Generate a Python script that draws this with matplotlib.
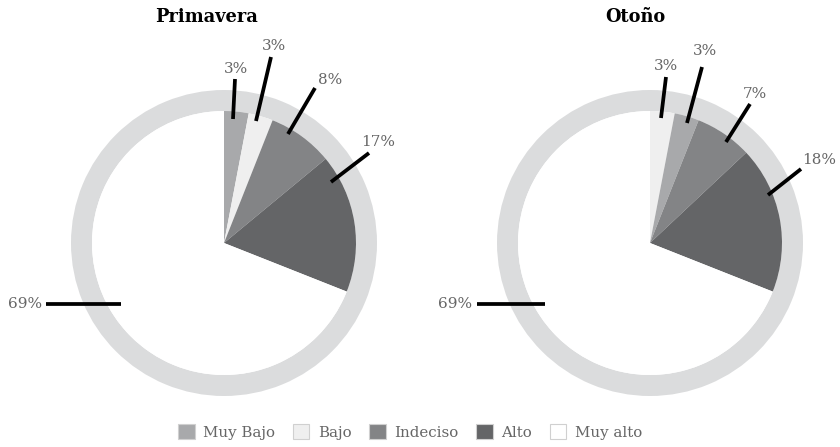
import matplotlib
matplotlib.use("Agg")
import matplotlib.pyplot as plt
from matplotlib.patches import Wedge, Patch
import numpy as np

# ---------------- data ----------------
categories = ["Muy Bajo", "Bajo", "Indeciso", "Alto", "Muy alto"]
titles = ["Primavera", "Otoño"]
# slice order as drawn (clockwise from 12 o'clock)
primavera_order = ["Muy Bajo", "Bajo", "Indeciso", "Alto", "Muy alto"]
primavera_values = [3, 3, 8, 17, 69]
otono_order = ["Bajo", "Muy Bajo", "Indeciso", "Alto", "Muy alto"]
otono_values = [3, 3, 7, 18, 69]

# ---------------- style ----------------
colors = {"Muy Bajo": "#a8a9ab", "Bajo": "#efefef", "Indeciso": "#838486",
          "Alto": "#646567", "Muy alto": "#ffffff"}
ring_color = "#dbdcdd"
text_color = "#666666"
W, H = 840, 447
R = 132          # pie radius (px)
RING_OUT = 153   # ring outer radius (px)

# leader layout (px offsets from pie centre, y downward): line start, line end, label centre, ha
layout_p = [((9, -124), (11, -164), (12, -174), "center"),
            ((32, -122), (47, -186), (50, -197), "center"),
            ((64, -109), (91, -155), (106, -163), "center"),
            ((107, -61), (145, -90), (154, -101), "center"),
            ((-103, 61), (-178, 61), (-182, 61), "right")]
layout_o = [((11, -125), (16, -166), (16, -177), "center"),
            ((37, -120), (52, -176), (55, -192), "center"),
            ((76, -101), (100, -139), (105, -149), "center"),
            ((118, -48), (151, -74), (169, -83), "center"),
            ((-105, 61), (-173, 61), (-178, 61), "right")]

centers = [(224, 243), (650, 243)]
title_x = [207, 635]

fig = plt.figure(figsize=(8.4, 4.47), dpi=100)
ax = fig.add_axes([0, 0, 1, 1])

def draw(center_px, order, values, layout, title, tx):
    cx, cy = center_px[0], H - center_px[1]
    ring = Wedge((cx, cy), RING_OUT, 0, 360, width=RING_OUT - R,
                 facecolor=ring_color, edgecolor="none", zorder=1)
    ax.add_patch(ring)
    wedges, _ = ax.pie(values, colors=[colors[c] for c in order], startangle=90,
                       counterclock=False, radius=R, center=(cx, cy), frame=True,
                       wedgeprops=dict(linewidth=0, edgecolor="none", zorder=2))
    for v, (s, e, t, ha) in zip(values, layout):
        ax.plot([cx + s[0], cx + e[0]], [cy - s[1], cy - e[1]], color="black",
                lw=2.7, solid_capstyle="butt", zorder=3)
        ax.text(cx + t[0], cy - t[1], f"{v}%", ha=ha, va="center", fontsize=11,
                family="DejaVu Serif", color=text_color, zorder=4)
    ax.text(tx, H - 17, title, ha="center", va="center", fontsize=12.8,
            family="DejaVu Serif", fontweight="bold", color="black")

draw(centers[0], primavera_order, primavera_values, layout_p, titles[0], title_x[0])
draw(centers[1], otono_order, otono_values, layout_o, titles[1], title_x[1])

ax.set_xlim(0, W)
ax.set_ylim(0, H)
ax.set_aspect("equal")
ax.axis("off")

handles = [Patch(facecolor=colors[c], edgecolor="#d0d0d0", linewidth=0.8) for c in categories]
leg = fig.legend(handles, categories, loc="center", bbox_to_anchor=(410 / W, 1 - 432 / H),
                 ncol=5, frameon=False, handlelength=1.1, handleheight=1.1,
                 handletextpad=0.55, columnspacing=1.2,
                 prop={"family": "DejaVu Serif", "size": 10.8})
for t in leg.get_texts():
    t.set_color(text_color)

fig.savefig("out.png", dpi=100)
